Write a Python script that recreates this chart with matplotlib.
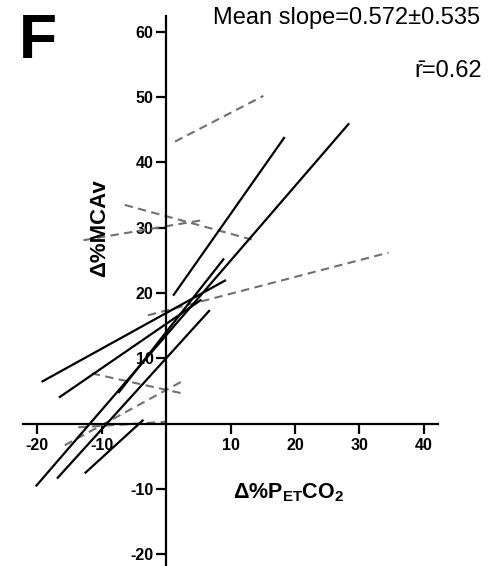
import matplotlib
matplotlib.use("Agg")
import matplotlib.pyplot as plt

plt.rcParams['font.family'] = ['Liberation Sans', 'DejaVu Sans']
plt.rcParams['mathtext.fontset'] = 'custom'
plt.rcParams['mathtext.rm'] = 'Liberation Sans:bold'
plt.rcParams['mathtext.bf'] = 'Liberation Sans:bold'
plt.rcParams['mathtext.it'] = 'Liberation Sans:bold'

# Individual regression lines (start/end of each subject's range)
solid_x0 = [1.1, -20.2, -19.3, -16.6, -16.9, -7.4, -12.6]
solid_x1 = [18.4, 28.4, 9.3, 5.5, 6.8, 9.0, -3.5]
solid_y0 = [19.6, -9.6, 6.4, 4.0, -8.4, 4.7, -7.6]
solid_y1 = [43.9, 46.0, 22.0, 19.0, 17.4, 25.3, 0.6]

dashed_x0 = [1.4, -6.4, -12.8, -2.8, -11.5, -15.7, -13.6]
dashed_x1 = [15.1, 13.3, 5.8, 34.5, 2.7, 2.7, 0.1]
dashed_y0 = [43.2, 33.5, 28.1, 16.6, 7.7, -3.3, -0.55]
dashed_y1 = [50.2, 28.2, 31.2, 26.2, 4.6, 6.6, 0.3]

x_ticks = [-20, -10, 10, 20, 30, 40]
y_ticks = [-20, -10, 10, 20, 30, 40, 50, 60]

fig = plt.figure(figsize=(4.99, 5.66), dpi=100)
ax = fig.add_axes([0, 0, 1, 1])
ax.set_xlim(-25.74, 51.63)
ax.set_ylim(-21.79, 64.88)
ax.patch.set_alpha(0)

for x0, x1, y0, y1 in zip(dashed_x0, dashed_x1, dashed_y0, dashed_y1):
    ax.plot([x0, x1], [y0, y1], color='#707070', lw=1.5, dashes=(4, 2.6),
            solid_capstyle='butt', dash_capstyle='butt', zorder=2)
for x0, x1, y0, y1 in zip(solid_x0, solid_x1, solid_y0, solid_y1):
    ax.plot([x0, x1], [y0, y1], color='black', lw=1.6, zorder=3,
            solid_capstyle='butt')

for s in ['top', 'right']:
    ax.spines[s].set_visible(False)
ax.spines['left'].set_position(('data', 0))
ax.spines['bottom'].set_position(('data', 0))
ax.spines['left'].set_bounds(-21.79, 62.4)
ax.spines['bottom'].set_bounds(-22.2, 42.2)
for s in ['left', 'bottom']:
    ax.spines[s].set_linewidth(1.6)
    ax.spines[s].set_zorder(4)

ax.set_xticks(x_ticks)
ax.set_yticks(y_ticks)
ax.set_xticklabels([str(v) for v in x_ticks], fontweight='bold', fontsize=11.5)
ax.set_yticklabels([str(v) for v in y_ticks], fontweight='bold', fontsize=11.5)
ax.tick_params(axis='x', direction='out', length=7, width=1.6, pad=3)
ax.tick_params(axis='y', direction='out', length=7.5, width=1.6, pad=1.5)

# axis labels
fig.text(100 / 499, 1 - 228 / 566, 'Δ%MCAv', rotation=90, ha='center', va='center',
         fontsize=16, fontweight='bold')
fig.text(289 / 499, 1 - 493 / 566, 'Δ%P$_{ET}$CO$_{2}$', ha='center', va='center',
         fontsize=15.5, fontweight='bold')

fig.text(19 / 499, 1 - 41 / 566, 'F', ha='left', va='center', fontsize=45,
         fontweight='bold')
fig.text(480 / 499, 1 - 18 / 566, 'Mean slope=0.572±0.535', ha='right', va='center',
         fontsize=17)
fig.text(482 / 499, 1 - 71 / 566, 'r\u0304=0.62', ha='right', va='center', fontsize=17)

fig.savefig('out.png', dpi=100)
